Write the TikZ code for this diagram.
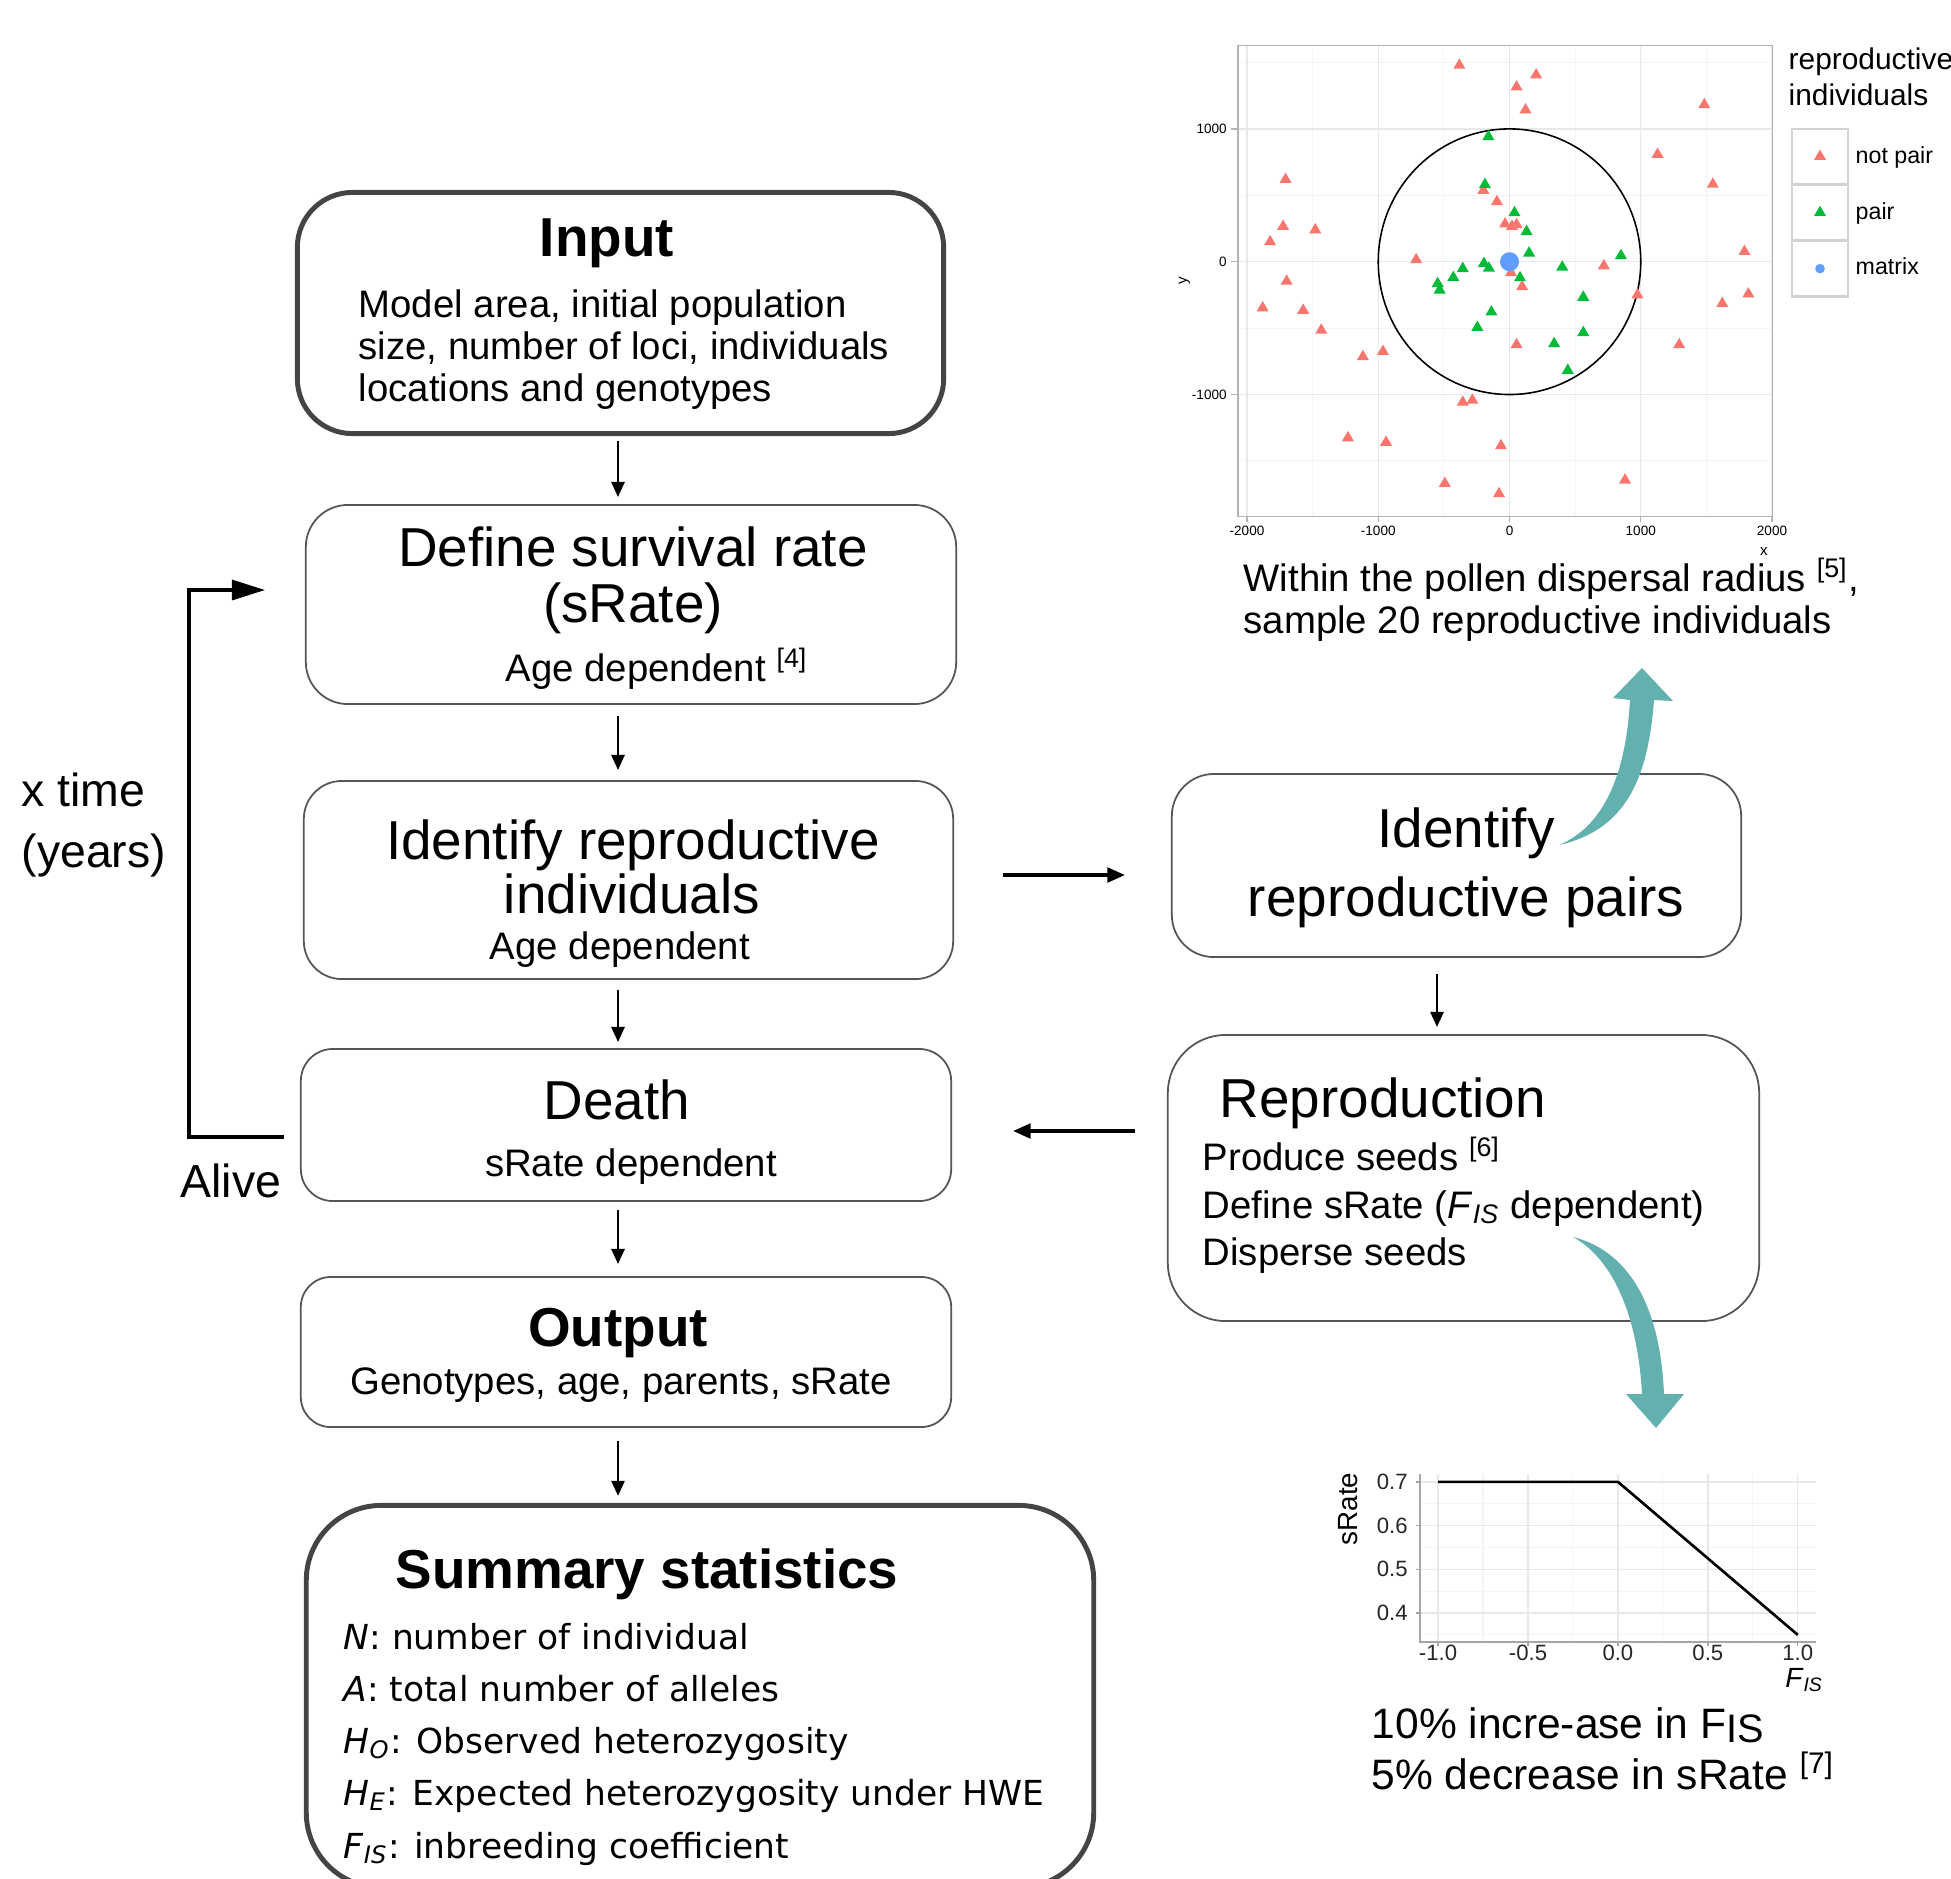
\documentclass[tikz,border=0pt]{standalone}
\usepackage{fontspec}
\setmainfont{Liberation Sans}
\newfontfamily\djv{DejaVu Sans}
\usetikzlibrary{arrows.meta}
\definecolor{boxline}{HTML}{555555}
\definecolor{boxthick}{HTML}{444444}
\definecolor{ggred}{HTML}{F8766D}
\definecolor{gggreen}{HTML}{00BA38}
\definecolor{ggblue}{HTML}{619CFF}
\definecolor{gridmaj}{HTML}{E8E8E8}
\definecolor{gridmin}{HTML}{F4F4F4}
\definecolor{tealarr}{HTML}{62B1AE}
\newcommand\myfs[1]{\fontsize{#1}{#1}\selectfont}
\begin{document}
\begin{tikzpicture}[x=0.01cm,y=-0.01cm,
  thinbox/.style={draw=boxline, line width=0.5pt, inner sep=0pt},
  thickbox/.style={draw=boxthick, line width=1.4pt, inner sep=0pt},
  arr/.style={line width=0.75pt, -{Triangle[length=4.3pt,width=3.7pt]}},
  head/.style={font=\myfs{15.6}, inner sep=0pt, anchor=base},
  headb/.style={font=\bfseries\myfs{15.6}, inner sep=0pt, anchor=base},
  body/.style={font=\myfs{10.9}, inner sep=0pt, anchor=base},
  bodyl/.style={font=\myfs{10.9}, inner sep=0pt, anchor=base west},
  sumt/.style={font=\djv\myfs{9.8}, inner sep=0pt, anchor=base west},
  side/.style={font=\myfs{13.2}, inner sep=0pt, anchor=base west},
  tickf/.style={font=\myfs{3.85}, inner sep=0pt},
  stick/.style={font=\myfs{6.3}, inner sep=0pt, text=black!85}
]
\useasboundingbox (0,0) rectangle (1951,1878);
\clip (0,0) rectangle (1951,1878);
\fill[white] (0,0) rectangle (1951,1878);

% ---------------- boxes ----------------
\node[thickbox, rounded corners=0.55cm, minimum width=6.46cm, minimum height=2.41cm] (input) at (620.5,313) {};
\node[thinbox, rounded corners=0.42cm, minimum width=6.5cm, minimum height=1.99cm] (define) at (631,604.5) {};
\node[thinbox, rounded corners=0.38cm, minimum width=6.49cm, minimum height=1.98cm] (identind) at (628.5,880) {};
\node[thinbox, rounded corners=0.32cm, minimum width=6.5cm, minimum height=1.52cm] (death) at (626,1125) {};
\node[thinbox, rounded corners=0.3cm, minimum width=6.5cm, minimum height=1.5cm] (output) at (626,1352) {};
\node[thickbox, rounded corners=0.75cm, minimum width=7.87cm, minimum height=3.82cm] (summary) at (700,1696.5) {};
\node[thinbox, rounded corners=0.42cm, minimum width=5.69cm, minimum height=1.83cm] (pairs) at (1456.5,865.5) {};
\node[thinbox, rounded corners=0.58cm, minimum width=5.91cm, minimum height=2.86cm] (repro) at (1463.5,1178) {};

% ---------------- texts ----------------
\node[headb] (tInput) at (607,256) {Input};
\node[bodyl] (tIn1) at (358,317) {Model area, initial population};
\node[bodyl] (tIn2) at (358,359) {size, number of loci, individuals};
\node[bodyl] (tIn3) at (358,401) {locations and genotypes};

\node[head] (tDef1) at (633,566) {Define survival rate};
\node[head] (tDef2) at (633,622) {(sRate)};
\node[body] (tDef3) at (657,681) {Age dependent \textsuperscript{[4]}};

\node[head] (tId1) at (633,859) {Identify reproductive};
\node[head] (tId2) at (632,913) {individuals};
\node[body] (tId3) at (620,959) {Age dependent};

\node[head] (tDeath) at (617,1119) {Death};
\node[body] (tDeath2) at (631,1176) {sRate dependent};

\node[headb] (tOut) at (618,1346) {Output};
\node[body] (tOut2) at (621,1394) {Genotypes, age, parents, sRate};

\node[headb] (tSum) at (647,1588) {Summary statistics};
\node[sumt] (s1) at (343,1649) {\textit{N}: number of individual};
\node[sumt] (s2) at (343,1701) {\textit{A}: total number of alleles};
\node[sumt] (s3) at (343,1753) {\textit{H}\textsubscript{\textit{O}}: Observed heterozygosity};
\node[sumt] (s4) at (343,1805) {\textit{H}\textsubscript{\textit{E}}: Expected heterozygosity under HWE};
\node[sumt] (s5) at (343,1858) {\textit{F}\textsubscript{\textit{IS}}: inbreeding coefficient};

\node[head] (tP1) at (1466,847) {Identify};
\node[head] (tP2) at (1466,916) {reproductive pairs};

\node[head, anchor=base west] (tR) at (1219,1117) {Reproduction};
\node[bodyl] (tR1) at (1202,1170) {Produce seeds \textsuperscript{[6]}};
\node[bodyl] (tR2) at (1202,1218) {Define sRate (\textit{F}\textsubscript{\textit{IS}} dependent)};
\node[bodyl] (tR3) at (1202,1265) {Disperse seeds};

\node[side] (xtime1) at (21,806) {x time};
\node[side] (xtime2) at (21,867) {(years)};
\node[side] (alive) at (180,1197) {Alive};

% ---------------- connectors ----------------
\coordinate (ax) at (618,0);
\draw[arr, shorten <=0.05cm, shorten >=0.07cm] (input.south -| ax) -- (define.north -| ax);
\draw[arr, shorten <=0.11cm, shorten >=0.10cm] (define.south -| ax) -- (identind.north -| ax);
\draw[arr, shorten <=0.10cm, shorten >=0.06cm] (identind.south -| ax) -- (death.north -| ax);
\draw[arr, shorten <=0.08cm, shorten >=0.12cm] (death.south -| ax) -- (output.north -| ax);
\draw[arr, shorten <=0.13cm, shorten >=0.07cm] (output.south -| ax) -- (summary.north -| ax);

\coordinate (h1) at (0,875);
\draw[line width=0.9pt, -{Triangle[length=5pt,width=4.2pt]}, shorten <=0.49cm, shorten >=0.46cm] (identind.east |- h1) -- (pairs.west |- h1);
\coordinate (h2) at (0,1131);
\draw[line width=0.9pt, -{Triangle[length=5pt,width=4.2pt]}, shorten <=0.32cm, shorten >=0.61cm] (repro.west |- h2) -- (death.east |- h2);
\coordinate (ax2) at (1437,0);
\draw[arr, shorten <=0.16cm, shorten >=0.07cm] (pairs.south -| ax2) -- (repro.north -| ax2);

\coordinate (loopS) at (284,1137);
\coordinate (loopC) at (189,1137);
\coordinate (loopE) at (265,590);
\draw[line width=0.9pt, -{Triangle[length=9.4pt,width=5.7pt]}] (loopS) -- (loopC) |- (loopE);

% ---------------- teal arrows ----------------
\fill[tealarr] (1559,845) .. controls (1595,830) and (1625,790) .. (1630,700)
  -- (1613,698) -- (1642,668) -- (1673,701) -- (1654,700)
  .. controls (1648,780) and (1625,830) .. (1559,845) -- cycle;
\fill[tealarr] (1573,1237) .. controls (1625,1250) and (1660,1300) .. (1664,1394)
  -- (1684,1394) -- (1656,1428) -- (1626,1394) -- (1642,1394)
  .. controls (1638,1320) and (1615,1260) .. (1573,1237) -- cycle;

% ---------------- scatter plot ----------------
\begin{scope}[shift={(1509.5,261.7)}, x=0.001318cm, y=0.001335cm]
  \foreach \v in {-1500,-500,500,1500} {
    \draw[gridmin, line width=0.3pt] (\v,-1917) -- (\v,1627);
    \draw[gridmin, line width=0.3pt] (-2067,\v) -- (2003,\v);
  }
  \foreach \v in {-2000,-1000,0,1000,2000}
    \draw[gridmaj, line width=0.4pt] (\v,-1917) -- (\v,1627);
  \foreach \v in {-1000,0,1000}
    \draw[gridmaj, line width=0.4pt] (-2067,\v) -- (2003,\v);
  \draw[black, line width=0.45pt] (0,0) circle[x radius=1000, y radius=1000];
  \foreach \px/\py in {-382/1479, 203/1406, 54/1316, 122/1143, 1484/1182, 1128/808, 1549/583, -1706/619, -1725/266, -1480/240, -1824/150, -1698/-147, -1881/-348, -1572/-366, -1434/-516, -1117/-715, -964/-676, -711/15, -199/537, -96/452, -34/284, 19/266, 54/279, 11/-83, 96/-188, 54/-625, 719/-31, 975/-250, 1790/77, 1820/-243, 1621/-315, 1293/-625, -356/-1058, -283/-1043, -1231/-1326, -941/-1360, -65/-1386, -493/-1670, -80/-1747, 880/-1644}
    \fill[ggred] (\px,\py) ++(-46,-26) -- ++(92,0) -- ++(-46,78) -- cycle;
  \foreach \px/\py in {-161/942, -187/581, 38/369, 130/227, 149/65, -195/-13, -157/-49, -356/-52, -428/-119, -547/-165, -532/-214, 80/-121, 402/-41, 849/46, 562/-268, -138/-379, -245/-495, 340/-617, 562/-534, 444/-818}
    \fill[gggreen] (\px,\py) ++(-46,-26) -- ++(92,0) -- ++(-46,78) -- cycle;
  \fill[ggblue] (0,0) circle[radius=0.095cm];
  \draw[gray!60, line width=0.45pt] (-2067,-1917) rectangle (2003,1627);
  \foreach \v [count=\i] in {-1000,0,1000} {
    \draw[gray!60, line width=0.35pt] (-2067,\v) -- (-2120,\v);
    \node[tickf, anchor=east] (yt\i) at (-2150,\v) {\v};
  }
  \foreach \v [count=\i] in {-2000,-1000,0,1000,2000} {
    \draw[gray!60, line width=0.35pt] (\v,-1917) -- (\v,-1960);
    \node[tickf] (xt\i) at (\v,-2030) {\v};
  }
  \node[font=\myfs{4.3}, inner sep=0pt] (xlab) at (1939,-2182) {x};
  \node[font=\myfs{4.3}, inner sep=0pt, rotate=90] (ylab) at (-2477,-145) {y};
\end{scope}

% legend
\node[font=\myfs{8.5}, inner sep=0pt, anchor=base west] (legt1) at (1788,69) {reproductive};
\node[font=\myfs{8.5}, inner sep=0pt, anchor=base west] (legt2) at (1788,105) {individuals};
\node[draw=gray!35, line width=0.6pt, fill=white, minimum width=0.565cm, minimum height=0.557cm, inner sep=0pt, anchor=north west] (key1) at (1790.7,127.5) {};
\node[draw=gray!35, line width=0.6pt, fill=white, minimum width=0.565cm, minimum height=0.557cm, inner sep=0pt, anchor=north west] (key2) at (1790.7,183.6) {};
\node[draw=gray!35, line width=0.6pt, fill=white, minimum width=0.565cm, minimum height=0.557cm, inner sep=0pt, anchor=north west] (key3) at (1790.7,239.7) {};
\fill[ggred] (key1.center) ++(-6,3.4) -- ++(12,0) -- ++(-6,-10.2) -- cycle;
\fill[gggreen] (key2.center) ++(-6,3.4) -- ++(12,0) -- ++(-6,-10.2) -- cycle;
\fill[ggblue] (key3.center) circle[radius=0.048cm];
\node[font=\myfs{6.6}, inner sep=0pt, anchor=base west] (leg1) at (1855,163) {not pair};
\node[font=\myfs{6.6}, inner sep=0pt, anchor=base west] (leg2) at (1855,219.5) {pair};
\node[font=\myfs{6.6}, inner sep=0pt, anchor=base west] (leg3) at (1855,274.6) {matrix};

\node[bodyl] (cap1) at (1243,591) {Within the pollen dispersal radius \textsuperscript{[5]},};
\node[bodyl] (cap2) at (1243,633) {sample 20 reproductive individuals};

% ---------------- small line plot ----------------
\begin{scope}[shift={(1617.9,1787.9)}, x=1.7975cm, y=4.37cm]
  \foreach \v in {-0.75,-0.25,0.25,0.75}
    \draw[gridmin, line width=0.3pt] (\v,0.334) -- (\v,0.717);
  \foreach \v in {0.35,0.45,0.55,0.65}
    \draw[gridmin, line width=0.3pt] (-1.1,\v) -- (1.1,\v);
  \foreach \v in {-1,-0.5,0,0.5,1}
    \draw[gridmaj, line width=0.4pt] (\v,0.334) -- (\v,0.717);
  \foreach \v in {0.4,0.5,0.6,0.7}
    \draw[gridmaj, line width=0.4pt] (-1.1,\v) -- (1.1,\v);
  \draw[gray!70, line width=0.4pt] (-1.1,0.717) -- (-1.1,0.334) -- (1.1,0.334);
  \foreach \v [count=\i] in {0.4,0.5,0.6,0.7} {
    \draw[gray!70, line width=0.4pt] (-1.1,\v) -- (-1.122,\v);
    \node[stick, anchor=east] (syt\i) at (-1.165,\v) {\v};
  }
  \foreach \v/\t [count=\i] in {-1/-1.0,-0.5/-0.5,0/0.0,0.5/0.5,1/1.0} {
    \draw[gray!70, line width=0.4pt] (\v,0.334) -- (\v,0.325);
    \node[stick] (sxt\i) at (\v,0.3087) {\t};
  }
  \draw[black, line width=0.75pt] (-1,0.7) -- (0,0.7) -- (1,0.35);
\end{scope}
\node[font=\myfs{7.9}, inner sep=0pt, rotate=90] (sratelab) at (1348,1509) {sRate};
\node[font=\myfs{7.9}, inner sep=0pt] (fislab) at (1804.5,1680) {\textit{F}\textsubscript{\textit{IS}}};

\node[font=\myfs{12.1}, inner sep=0pt, anchor=base west] (cap3) at (1371,1738) {10\% incre-ase in F\raisebox{-0.1em}{\myfs{11.3}IS}};
\node[font=\myfs{12.1}, inner sep=0pt, anchor=base west] (cap4) at (1371,1789) {5\% decrease in sRate \textsuperscript{[7]}};
\end{tikzpicture}
\end{document}
